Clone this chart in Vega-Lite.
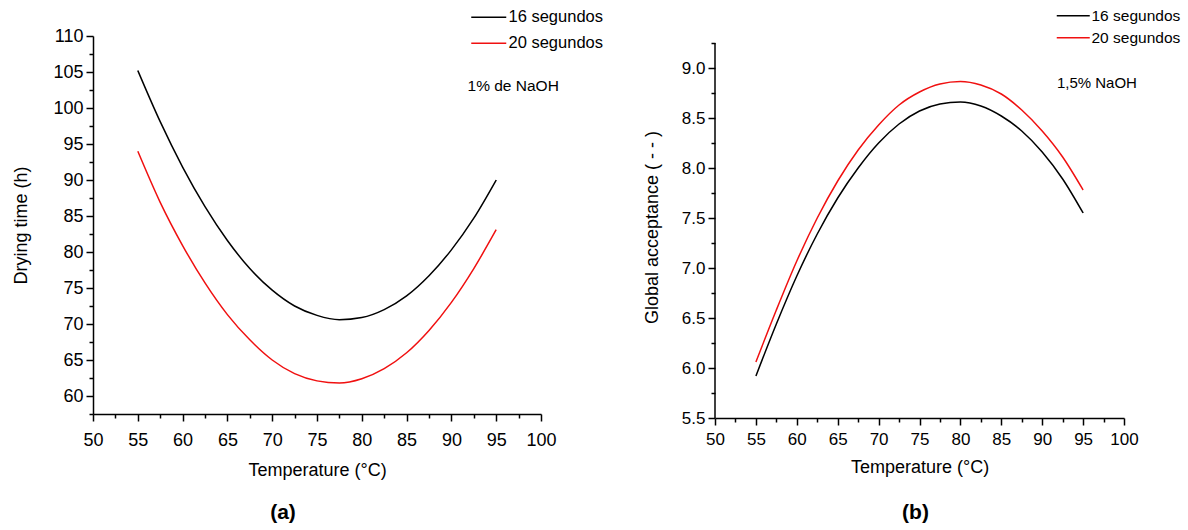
{
  "$schema": "https://vega.github.io/schema/vega-lite/v6.json",
  "padding": {"left": 12, "top": 8, "right": 0, "bottom": 0},
  "spacing": 40,
  "resolve": {"scale": {"color": "independent"}, "legend": {"color": "independent"}},
  "config": {
    "view": {"stroke": null},
    "font": "Liberation Sans",
    "axis": {
      "domainColor": "black", "domainWidth": 1.5, "tickColor": "black", "tickWidth": 1.5,
      "labelColor": "black", "titleColor": "black", "labelFontSize": 18, "titleFontSize": 18,
      "titleFontWeight": "normal", "grid": false, "labelFont": "Liberation Sans", "titleFont": "Liberation Sans",
      "labelPadding": 3, "labelOverlap": false, "labelFlush": false, "tickCount": 100
    },
    "legend": {"labelFont": "Liberation Sans", "labelColor": "black"},
    "title": {"font": "Liberation Sans", "color": "black"}
  },
  "hconcat": [
    {
      "width": 448, "height": 378,
      "title": {"text": "(a)", "orient": "bottom", "fontSize": 21, "fontWeight": "bold", "offset": 23, "anchor": "middle", "frame": "group", "dx": -34},
      "layer": [
        {
          "data": {"values": [
            {"T": 55, "y": 105.2, "series": "16 segundos"}, {"T": 57.5, "y": 98.1, "series": "16 segundos"},
            {"T": 60, "y": 91.8, "series": "16 segundos"}, {"T": 62.5, "y": 86.3, "series": "16 segundos"},
            {"T": 65, "y": 81.6, "series": "16 segundos"}, {"T": 67.5, "y": 77.7, "series": "16 segundos"},
            {"T": 70, "y": 74.7, "series": "16 segundos"}, {"T": 72.5, "y": 72.5, "series": "16 segundos"},
            {"T": 75, "y": 71.2, "series": "16 segundos"}, {"T": 77.5, "y": 70.6, "series": "16 segundos"},
            {"T": 80, "y": 70.9, "series": "16 segundos"}, {"T": 82.5, "y": 72.0, "series": "16 segundos"},
            {"T": 85, "y": 73.9, "series": "16 segundos"}, {"T": 87.5, "y": 76.7, "series": "16 segundos"},
            {"T": 90, "y": 80.3, "series": "16 segundos"}, {"T": 92.5, "y": 84.7, "series": "16 segundos"},
            {"T": 95, "y": 90.0, "series": "16 segundos"},
            {"T": 55, "y": 94.0, "series": "20 segundos"}, {"T": 57.5, "y": 86.9, "series": "20 segundos"},
            {"T": 60, "y": 80.9, "series": "20 segundos"}, {"T": 62.5, "y": 75.7, "series": "20 segundos"},
            {"T": 65, "y": 71.3, "series": "20 segundos"}, {"T": 67.5, "y": 67.8, "series": "20 segundos"},
            {"T": 70, "y": 65.0, "series": "20 segundos"}, {"T": 72.5, "y": 63.1, "series": "20 segundos"},
            {"T": 75, "y": 62.1, "series": "20 segundos"}, {"T": 77.5, "y": 61.8, "series": "20 segundos"},
            {"T": 80, "y": 62.4, "series": "20 segundos"}, {"T": 82.5, "y": 63.8, "series": "20 segundos"},
            {"T": 85, "y": 66.0, "series": "20 segundos"}, {"T": 87.5, "y": 69.1, "series": "20 segundos"},
            {"T": 90, "y": 73.0, "series": "20 segundos"}, {"T": 92.5, "y": 77.7, "series": "20 segundos"},
            {"T": 95, "y": 83.1, "series": "20 segundos"}
          ]},
          "mark": {"type": "line", "strokeWidth": 1.5, "interpolate": "monotone"},
          "encoding": {
            "x": {"field": "T", "type": "quantitative",
              "scale": {"domain": [50, 100], "nice": false},
              "axis": {"title": "Temperature (°C)", "titlePadding": 12, "labelPadding": 10, "labelOverlap": false, "tickCount": 100, "format": "d",
                "values": [50,52.5,55,57.5,60,62.5,65,67.5,70,72.5,75,77.5,80,82.5,85,87.5,90,92.5,95,97.5,100],
                "labelExpr": "datum.value % 5 === 0 ? datum.label : ''",
                "tickSize": {"condition": {"test": "datum.value % 5 === 0", "value": 7}, "value": 4}}},
            "y": {"field": "y", "type": "quantitative",
              "scale": {"domain": [57.5, 110], "nice": false, "zero": false},
              "axis": {"title": "Drying time (h)", "titlePadding": 22, "labelOverlap": false, "tickCount": 100, "format": "d",
                "values": [57.5,60,62.5,65,67.5,70,72.5,75,77.5,80,82.5,85,87.5,90,92.5,95,97.5,100,102.5,105,107.5,110],
                "labelExpr": "datum.value % 5 === 0 ? datum.label : ''",
                "tickSize": {"condition": {"test": "datum.value % 5 === 0", "value": 7}, "value": 4}}},
            "color": {"field": "series", "type": "nominal",
              "scale": {"domain": ["16 segundos", "20 segundos"], "range": ["black", "#f01010"]},
              "legend": {"orient": "none", "legendX": 375, "legendY": -27, "title": null,
                "symbolType": "M-1,0H6", "symbolSize": 100, "symbolStrokeWidth": 1.5,
                "labelFontSize": 16.5, "rowPadding": 9, "labelOffset": 24}}
          }
        },
        {
          "data": {"values": [{"T": 91.8, "v": 103.05, "label": "1% de NaOH"}]},
          "mark": {"type": "text", "align": "left", "baseline": "middle", "fontSize": 15.5, "color": "black"},
          "encoding": {
            "x": {"field": "T", "type": "quantitative"},
            "y": {"field": "v", "type": "quantitative"},
            "text": {"field": "label"}
          }
        }
      ]
    },
    {
      "width": 409, "height": 382,
      "title": {"text": "(b)", "orient": "bottom", "fontSize": 21, "fontWeight": "bold", "offset": 26, "anchor": "middle", "frame": "group", "dx": -4},
      "layer": [
        {
          "data": {"values": [
            {"T": 55, "y": 5.92, "series": "16 segundos"}, {"T": 57.5, "y": 6.44, "series": "16 segundos"},
            {"T": 60, "y": 6.92, "series": "16 segundos"}, {"T": 62.5, "y": 7.34, "series": "16 segundos"},
            {"T": 65, "y": 7.70, "series": "16 segundos"}, {"T": 67.5, "y": 8.00, "series": "16 segundos"},
            {"T": 70, "y": 8.25, "series": "16 segundos"}, {"T": 72.5, "y": 8.44, "series": "16 segundos"},
            {"T": 75, "y": 8.57, "series": "16 segundos"}, {"T": 77.5, "y": 8.64, "series": "16 segundos"},
            {"T": 80, "y": 8.66, "series": "16 segundos"}, {"T": 82.5, "y": 8.62, "series": "16 segundos"},
            {"T": 85, "y": 8.52, "series": "16 segundos"}, {"T": 87.5, "y": 8.37, "series": "16 segundos"},
            {"T": 90, "y": 8.16, "series": "16 segundos"}, {"T": 92.5, "y": 7.89, "series": "16 segundos"},
            {"T": 95, "y": 7.55, "series": "16 segundos"},
            {"T": 55, "y": 6.06, "series": "20 segundos"}, {"T": 57.5, "y": 6.58, "series": "20 segundos"},
            {"T": 60, "y": 7.07, "series": "20 segundos"}, {"T": 62.5, "y": 7.50, "series": "20 segundos"},
            {"T": 65, "y": 7.87, "series": "20 segundos"}, {"T": 67.5, "y": 8.18, "series": "20 segundos"},
            {"T": 70, "y": 8.43, "series": "20 segundos"}, {"T": 72.5, "y": 8.63, "series": "20 segundos"},
            {"T": 75, "y": 8.76, "series": "20 segundos"}, {"T": 77.5, "y": 8.84, "series": "20 segundos"},
            {"T": 80, "y": 8.865, "series": "20 segundos"}, {"T": 82.5, "y": 8.83, "series": "20 segundos"},
            {"T": 85, "y": 8.74, "series": "20 segundos"}, {"T": 87.5, "y": 8.58, "series": "20 segundos"},
            {"T": 90, "y": 8.37, "series": "20 segundos"}, {"T": 92.5, "y": 8.11, "series": "20 segundos"},
            {"T": 95, "y": 7.78, "series": "20 segundos"}
          ]},
          "mark": {"type": "line", "strokeWidth": 1.5, "interpolate": "monotone"},
          "encoding": {
            "x": {"field": "T", "type": "quantitative",
              "scale": {"domain": [50, 100], "nice": false, "zero": false},
              "axis": {"title": "Temperature (°C)", "titlePadding": 11, "labelPadding": 6, "labelFontSize": 17, "labelOverlap": false, "tickCount": 100, "format": "d",
                "values": [50,52.5,55,57.5,60,62.5,65,67.5,70,72.5,75,77.5,80,82.5,85,87.5,90,92.5,95,97.5,100],
                "labelExpr": "datum.value % 5 === 0 ? datum.label : ''",
                "tickSize": {"condition": {"test": "datum.value % 5 === 0", "value": 7}, "value": 4}}},
            "y": {"field": "y", "type": "quantitative",
              "scale": {"domain": [5.5, 9.32], "nice": false, "zero": false},
              "axis": {"title": "Global acceptance ( - - )", "titlePadding": 20, "format": ".1f", "domain": false, "labelFontSize": 17, "labelOverlap": false, "tickCount": 100,
                "values": [5.5,5.75,6,6.25,6.5,6.75,7,7.25,7.5,7.75,8,8.25,8.5,8.75,9,9.25],
                "labelExpr": "datum.value * 2 === round(datum.value * 2) ? datum.label : ''",
                "tickSize": {"condition": {"test": "datum.value * 2 === round(datum.value * 2)", "value": 7}, "value": 4}}},
            "color": {"field": "series", "type": "nominal",
              "scale": {"domain": ["16 segundos", "20 segundos"], "range": ["black", "#f01010"]},
              "legend": {"orient": "none", "legendX": 339, "legendY": -28, "title": null,
                "symbolType": "M-1,0H5.6", "symbolSize": 100, "symbolStrokeWidth": 1.5,
                "labelFontSize": 15.5, "rowPadding": 5, "labelOffset": 22}}
          }
        },
        {
          "data": {"values": [{"T": 50, "lo": 5.5, "hi": 9.25}]},
          "mark": {"type": "rule", "color": "black", "strokeWidth": 1.5},
          "encoding": {
            "x": {"field": "T", "type": "quantitative", "scale": {"domain": [50, 100], "nice": false, "zero": false}},
            "y": {"field": "lo", "type": "quantitative", "scale": {"domain": [5.5, 9.32], "nice": false, "zero": false}},
            "y2": {"field": "hi"}
          }
        },
        {
          "data": {"values": [{"T": 91.8, "v": 8.85, "label": "1,5% NaOH"}]},
          "mark": {"type": "text", "align": "left", "baseline": "middle", "fontSize": 15, "color": "black"},
          "encoding": {
            "x": {"field": "T", "type": "quantitative"},
            "y": {"field": "v", "type": "quantitative"},
            "text": {"field": "label"}
          }
        }
      ]
    }
  ]
}
